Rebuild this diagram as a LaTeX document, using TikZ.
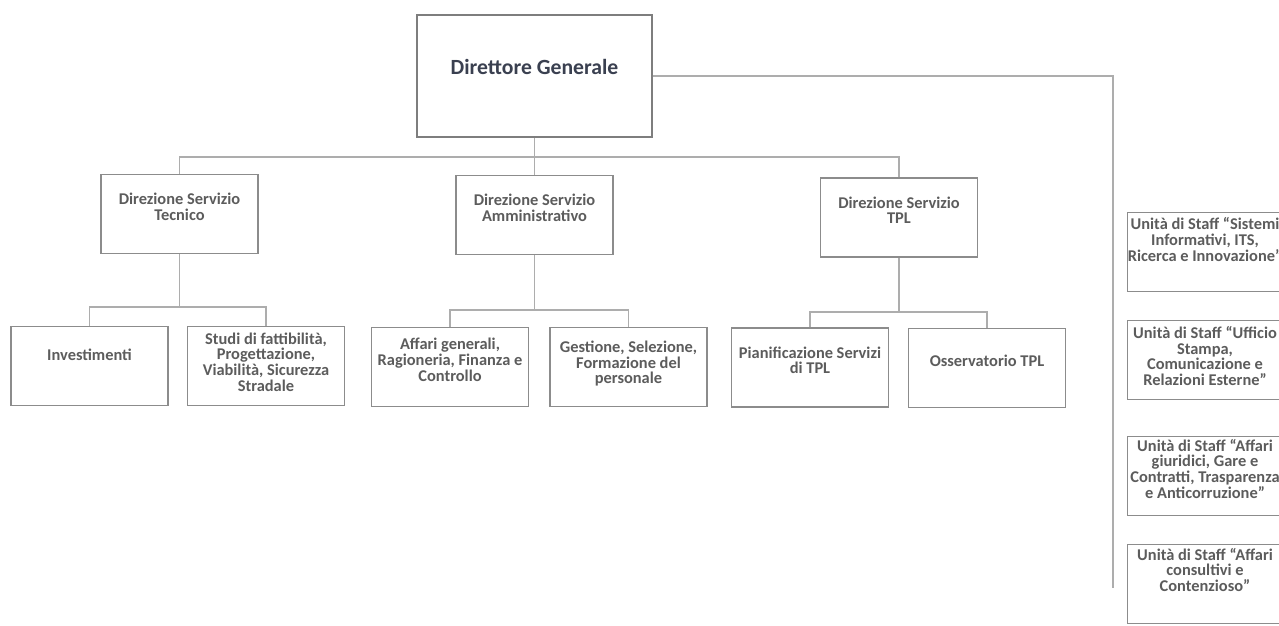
\documentclass[tikz,border=0pt]{standalone}
\usepackage{fontspec}
\setmainfont{Carlito}
\usepackage{xcolor}
\usetikzlibrary{positioning,calc}
\definecolor{boxgray}{HTML}{8C8C8C}
\definecolor{linkgray}{HTML}{ADADAD}
\definecolor{txtgray}{HTML}{5C5C5C}
\definecolor{txtdark}{HTML}{3A4050}
\tikzset{
  unitbox/.style={draw=boxgray,line width=1.1pt,
                  minimum width=4.71cm,minimum height=2.37cm,inner sep=0pt},
  topbox/.style={unitbox,line width=1.3pt,draw=boxgray!90!black,
                 minimum width=7.05cm,minimum height=3.66cm},
  unittext/.style={align=center,text=txtgray,inner sep=0pt,yshift=0.22cm,
                   font=\fontsize{14}{13.4}\selectfont\bfseries},
  toptext/.style={unittext,text=txtdark,yshift=0.06cm,
                  font=\fontsize{18.5}{20}\selectfont\bfseries},
  link/.style={draw=linkgray,line width=1.1pt}
}

\begin{document}
\begin{tikzpicture}[x=0.03cm,y=-0.03cm]
  \fill[white] (0,0) rectangle (1279,626);
  \useasboundingbox (0,0) rectangle (1279,626);

  % top of the chart
  \node[topbox] (dg) at (534.5,76) {};
  \node[toptext] (dg-txt) at (dg) {Direttore Generale};

  % directions
  \node[unitbox] (tec) at (179.5,214) {};
  \node[unittext] (tec-txt) at (tec) {Direzione Servizio\\Tecnico};
  \node[unitbox] (amm) at (534.5,215) {};
  \node[unittext] (amm-txt) at (amm) {Direzione Servizio\\Amministrativo};
  \node[unitbox] (tpl) at (899,217.5) {};
  \node[unittext] (tpl-txt) at (tpl) {Direzione Servizio\\TPL};

  % offices
  \node[unitbox] (inv) at (89.5,366) {};
  \node[unittext,yshift=0.12cm] (inv-txt) at (inv) {Investimenti};
  \node[unitbox] (stu) at (266,366) {};
  \node[unittext,yshift=-0.1cm] (stu-txt) at (stu) {Studi di fattibilità,\\Progettazione,\\Viabilità, Sicurezza\\Stradale};
  \node[unitbox] (aff) at (450,367) {};
  \node[unittext] (aff-txt) at (aff) {Affari generali,\\Ragioneria, Finanza e\\Controllo};
  \node[unitbox] (ges) at (628.5,367) {};
  \node[unittext,yshift=-0.12cm] (ges-txt) at (ges) {Gestione, Selezione,\\Formazione del\\personale};
  \node[unitbox] (pia) at (810,367.5) {};
  \node[unittext] (pia-txt) at (pia) {Pianificazione Servizi\\di TPL};
  \node[unitbox] (oss) at (987,368) {};
  \node[unittext] (oss-txt) at (oss) {Osservatorio TPL};

  % staff units
  \node[unitbox,minimum width=4.65cm] (st1) at (1205,252) {};
  \node[unittext,yshift=0.16cm] (st1-txt) at (st1) {Unità di Staff “Sistemi\\Informativi, ITS,\\Ricerca e Innovazione”};
  \node[unitbox,minimum width=4.65cm] (st2) at (1205,360) {};
  \node[unittext,yshift=-0.1cm] (st2-txt) at (st2) {Unità di Staff “Ufficio\\Stampa,\\Comunicazione e\\Relazioni Esterne”};
  \node[unitbox,minimum width=4.65cm] (st3) at (1205,476) {};
  \node[unittext] (st3-txt) at (st3) {Unità di Staff “Affari\\giuridici, Gare e\\Contratti, Trasparenza\\e Anticorruzione”};
  \node[unitbox,minimum width=4.65cm] (st4) at (1205,584) {};
  \node[unittext,yshift=0.2cm] (st4-txt) at (st4) {Unità di Staff “Affari\\consultivi e\\Contenzioso”};

  % rails
  \coordinate (rail) at (0,157);
  \coordinate (tecrail) at (0,307);
  \coordinate (ammrail) at (0,310);
  \coordinate (tplrail) at (0,312);
  \coordinate (staffend) at (1113,588);

  % connectors
  \draw[link] (dg.south) -- (amm.north);
  \draw[link] (tec.north) -- (tec.north |- rail) -- (tpl.north |- rail) -- (tpl.north);
  \draw[link] (dg.east) -| (staffend);

  \draw[link] (tec.south) -- (tec.south |- tecrail);
  \draw[link] (inv.north) -- (inv.north |- tecrail) -- (stu.north |- tecrail) -- (stu.north);

  \draw[link] (amm.south) -- (amm.south |- ammrail);
  \draw[link] (aff.north) -- (aff.north |- ammrail) -- (ges.north |- ammrail) -- (ges.north);

  \draw[link] (tpl.south) -- (tpl.south |- tplrail);
  \draw[link] (pia.north) -- (pia.north |- tplrail) -- (oss.north |- tplrail) -- (oss.north);
\end{tikzpicture}
\end{document}
